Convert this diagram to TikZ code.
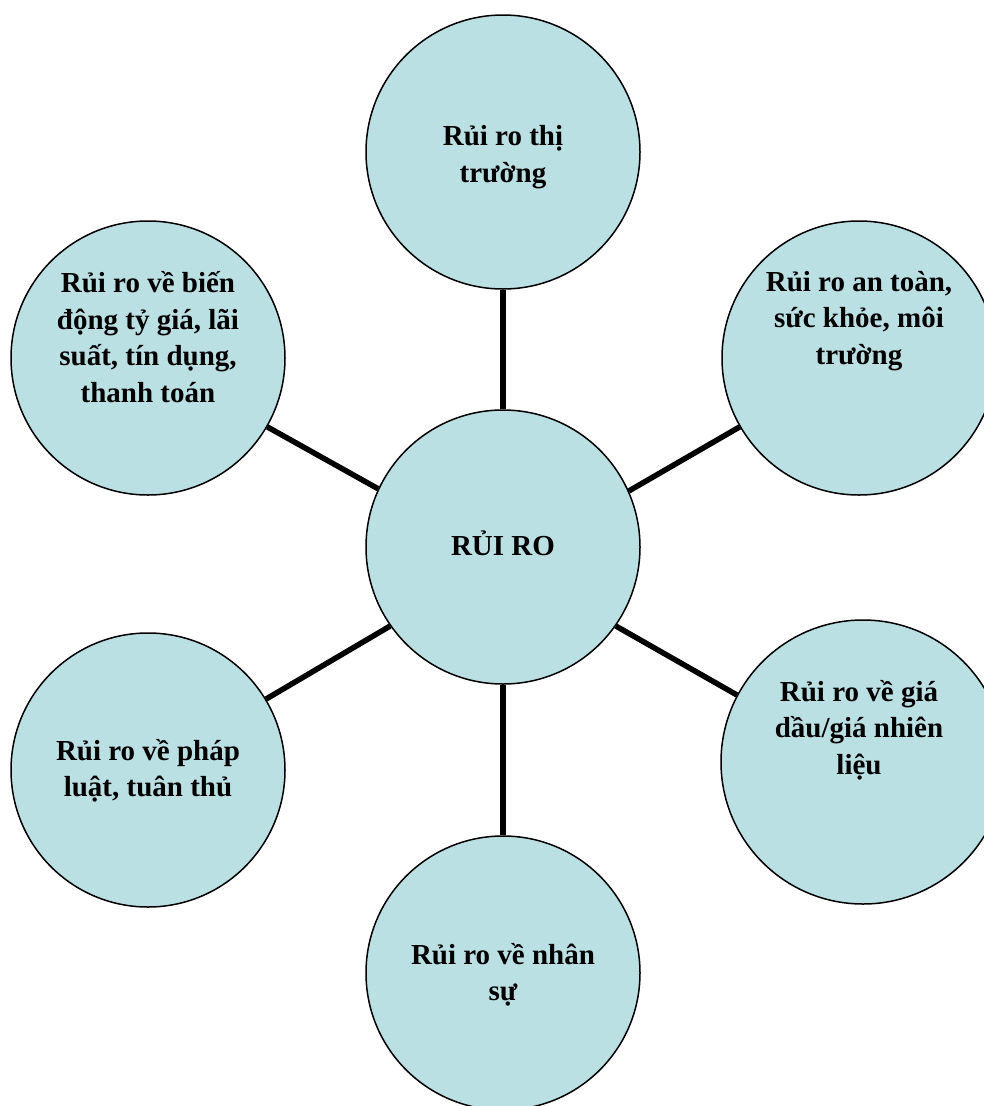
\documentclass[tikz,border=0pt]{standalone}
\usepackage{fontspec}
\setmainfont{Liberation Serif}
\usetikzlibrary{positioning}
\definecolor{xanhnhat}{RGB}{187,224,228}
\tikzset{
  vong/.style={circle, draw=black, line width=1.5pt, fill=xanhnhat, minimum size=274pt, inner sep=0pt},
  chu/.style={align=center, font=\fontsize{29}{36.5}\selectfont\bfseries},
  noi/.style={line width=5.5pt}
}
\begin{document}
\begin{tikzpicture}[x=1pt, y=-1pt]
    \useasboundingbox (0,0) rectangle (984,1106);

    % Vòng tròn trung tâm và các nhánh
    \node at (503,547) [vong] (ruiro) {};
    \node at (503,152) [vong] (thitruong) {};
    \node at (859,358) [vong] (antoan) {};
    \node at (863,762) [vong, minimum size=284pt] (giadau) {};
    \node at (503,973) [vong] (nhansu) {};
    \node at (148,770) [vong] (phapluat) {};
    \node at (148,358) [vong] (tygia) {};

    % Đường nối từ tâm ra các nhánh
    \draw[noi] (ruiro) -- (thitruong);
    \draw[noi] (ruiro) -- (nhansu);
    \foreach \a/\nhanh/\b in {24/antoan/210, 155/tygia/330, 215/phapluat/31, 325/giadau/152} {
        \draw[noi] (ruiro.\a) -- (\nhanh.\b);
    }

    % Chữ trong các vòng tròn
    \node[chu] (c_ruiro) at (503,543) {RỦI RO};
    \node[chu] (c_thitruong) at (503,157) {Rủi ro thị\\trường};
    \node[chu] (c_antoan) at (859,321) {Rủi ro an toàn,\\sức khỏe, môi\\trường};
    \node[chu] (c_giadau) at (859,730) {Rủi ro về giá\\dầu/giá nhiên\\liệu};
    \node[chu] (c_nhansu) at (503,975) {Rủi ro về nhân\\sự};
    \node[chu] (c_phapluat) at (148,771) {Rủi ro về pháp\\luật, tuân thủ};
    \node[chu] (c_tygia) at (148,337) {Rủi ro về biến\\động tỷ giá, lãi\\suất, tín dụng,\\thanh toán};

\end{tikzpicture}
\end{document}
